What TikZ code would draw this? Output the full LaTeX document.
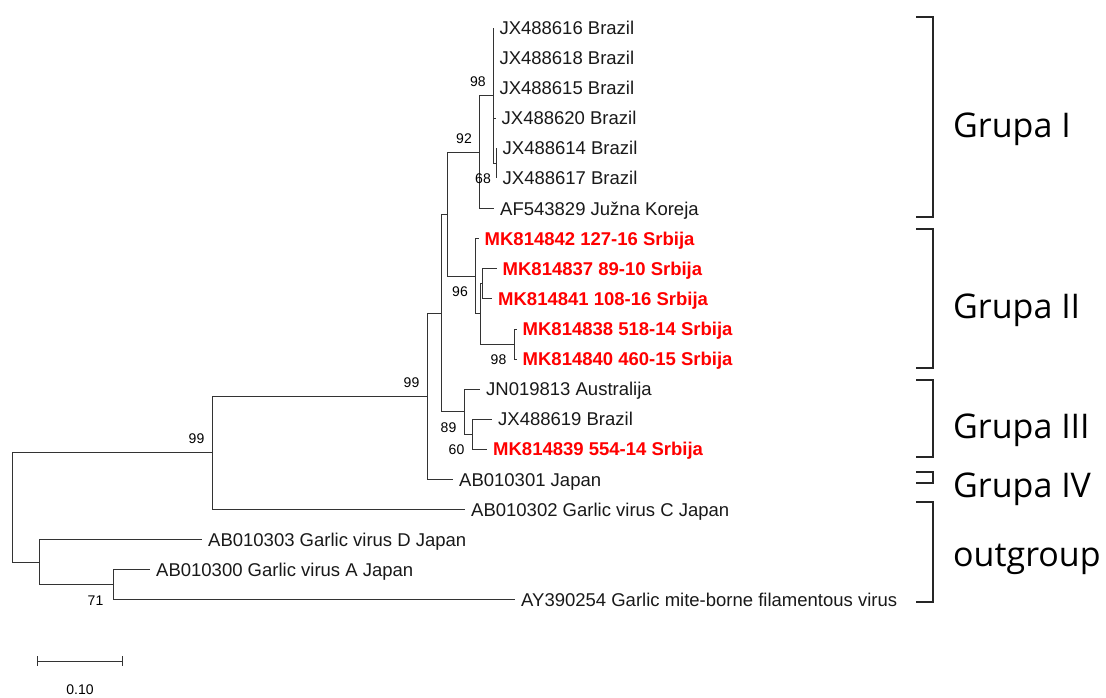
\documentclass[tikz,border=0pt]{standalone}
\usepackage{fontspec}
\setmainfont{Liberation Sans}
\newfontfamily\grpfont{Open Sans}
\begin{document}
\begin{tikzpicture}[x=1pt,y=-1pt,
  br/.style={draw=black!80, line width=1pt},
  lab/.style={anchor=base west, inner sep=0pt, font=\fontsize{18.5}{20}\selectfont, text=black!90},
  redlab/.style={lab, text=red, font=\fontsize{18.5}{20}\selectfont\bfseries},
  bootup/.style={anchor=east, inner sep=0pt, font=\fontsize{14}{16}\selectfont, xshift=-7.5pt, yshift=14pt},
  bootdn/.style={anchor=east, inner sep=0pt, font=\fontsize{14}{16}\selectfont, xshift=-7.5pt, yshift=-15.5pt},
  grp/.style={anchor=base west, inner sep=0pt, font=\grpfont\fontsize{34}{40}\selectfont},
  brk/.style={draw=black!85, line width=1.1pt}]
\useasboundingbox (0,0) rectangle (1106,698);

% tips
\coordinate (t1) at (493.3,28.0);
\coordinate (t2) at (493.3,58.1);
\coordinate (t3) at (493.3,88.2);
\coordinate (t4) at (495.5,118.3);
\coordinate (t5) at (496.5,148.4);
\coordinate (t6) at (496.5,178.5);
\coordinate (t7) at (494,208.6);
\coordinate (t8) at (478.5,238.7);
\coordinate (t9) at (496.5,268.8);
\coordinate (t10) at (492,298.9);
\coordinate (t11) at (516.5,329.0);
\coordinate (t12) at (516.5,359.1);
\coordinate (t13) at (480,389.2);
\coordinate (t14) at (492,419.3);
\coordinate (t15) at (487,449.4);
\coordinate (t16) at (453,479.5);
\coordinate (t17) at (465,509.6);
\coordinate (t18) at (202,539.7);
\coordinate (t19) at (150,569.8);
\coordinate (t20) at (515,599.9);

% internal nodes
\coordinate (n68) at (496.5,163.45);
\coordinate (n98) at (493.3,95.7);
\coordinate (g1) at (479.5,152.2);
\coordinate (c) at (482,283.85);
\coordinate (d) at (514,344.05);
\coordinate (b) at (480,313.95);
\coordinate (g2) at (475.5,276.3);
\coordinate (l) at (447.7,214.25);
\coordinate (e) at (472,434.35);
\coordinate (g3) at (464,411.8);
\coordinate (m) at (441.7,313.0);
\coordinate (n99) at (427,396.25);
\coordinate (p) at (212,452.9);
\coordinate (q) at (113,584.85);
\coordinate (o) at (39,562.3);
\coordinate (r) at (12,507.6);

% branches
\draw[br] (n68) |- (t5); \draw[br] (n68) |- (t6);
\draw[br] (n98) |- (t1); \draw[br] (n98) |- (t2); \draw[br] (n98) |- (t3);
\draw[br] (n98) |- (t4); \draw[br] (n98) |- (n68);
\draw[br] (g1) |- (n98); \draw[br] (g1) |- (t7);
\draw[br] (c) |- (t9); \draw[br] (c) |- (t10);
\draw[br] (d) |- (t11); \draw[br] (d) |- (t12);
\draw[br] (b) |- (c); \draw[br] (b) |- (d);
\draw[br] (g2) |- (t8); \draw[br] (g2) |- (b);
\draw[br] (l) |- (g1); \draw[br] (l) |- (g2);
\draw[br] (e) |- (t14); \draw[br] (e) |- (t15);
\draw[br] (g3) |- (t13); \draw[br] (g3) |- (e);
\draw[br] (m) |- (l); \draw[br] (m) |- (g3);
\draw[br] (n99) |- (m); \draw[br] (n99) |- (t16);
\draw[br] (p) |- (n99); \draw[br] (p) |- (t17);
\draw[br] (q) |- (t19); \draw[br] (q) |- (t20);
\draw[br] (o) |- (t18); \draw[br] (o) |- (q);
\draw[br] (r) |- (p); \draw[br] (r) |- (o);

% tip labels
\node[lab] (l1) at ([xshift=6pt,yshift=-6.5pt]t1) {JX488616 Brazil};
\node[lab] (l2) at ([xshift=6pt,yshift=-6.5pt]t2) {JX488618 Brazil};
\node[lab] (l3) at ([xshift=6pt,yshift=-6.5pt]t3) {JX488615 Brazil};
\node[lab] (l4) at ([xshift=6pt,yshift=-6.5pt]t4) {JX488620 Brazil};
\node[lab] (l5) at ([xshift=6pt,yshift=-6.5pt]t5) {JX488614 Brazil};
\node[lab] (l6) at ([xshift=6pt,yshift=-6.5pt]t6) {JX488617 Brazil};
\node[lab] (l7) at ([xshift=6pt,yshift=-6.5pt]t7) {AF543829 Južna Koreja};
\node[redlab] (l8) at ([xshift=6pt,yshift=-6.5pt]t8) {MK814842 127-16 Srbija};
\node[redlab] (l9) at ([xshift=6pt,yshift=-6.5pt]t9) {MK814837 89-10 Srbija};
\node[redlab] (l10) at ([xshift=6pt,yshift=-6.5pt]t10) {MK814841 108-16 Srbija};
\node[redlab] (l11) at ([xshift=6pt,yshift=-6.5pt]t11) {MK814838 518-14 Srbija};
\node[redlab] (l12) at ([xshift=6pt,yshift=-6.5pt]t12) {MK814840 460-15 Srbija};
\node[lab] (l13) at ([xshift=6pt,yshift=-6.5pt]t13) {JN019813 Australija};
\node[lab] (l14) at ([xshift=6pt,yshift=-6.5pt]t14) {JX488619 Brazil};
\node[redlab] (l15) at ([xshift=6pt,yshift=-6.5pt]t15) {MK814839 554-14 Srbija};
\node[lab] (l16) at ([xshift=6pt,yshift=-6.5pt]t16) {AB010301 Japan};
\node[lab] (l17) at ([xshift=6pt,yshift=-6.5pt]t17) {AB010302 Garlic virus C Japan};
\node[lab] (l18) at ([xshift=6pt,yshift=-6.5pt]t18) {AB010303 Garlic virus D Japan};
\node[lab] (l19) at ([xshift=6pt,yshift=-6.5pt]t19) {AB010300 Garlic virus A Japan};
\node[lab] (l20) at ([xshift=6pt,yshift=-6.5pt]t20) {AY390254 Garlic mite-borne filamentous virus};

% bootstrap values
\node[bootup] (b98a) at (n98) {98};
\node[bootup] (b92) at (g1) {92};
\node[bootdn, xshift=2pt] (b68) at (n68) {68};
\node[bootdn] (b96) at (g2) {96};
\node[bootdn] (b98b) at (d) {98};
\node[bootup] (b99a) at (n99) {99};
\node[bootdn] (b89) at (g3) {89};
\node[bootdn] (b60) at (e) {60};
\node[bootup] (b99b) at (p) {99};
\node[bootdn, xshift=-2pt] (b71) at (q) {71};

% group brackets
\draw[brk] (916,17) -- (933,17) -- (933,217) -- (916,217);
\draw[brk] (916,229) -- (933,229) -- (933,368) -- (916,368);
\draw[brk] (916,380) -- (933,380) -- (933,457) -- (916,457);
\draw[brk] (916,472) -- (933,472) -- (933,483) -- (916,483);
\draw[brk] (916,502) -- (933,502) -- (933,602) -- (916,602);
\node[grp] (gI) at (953,138) {Grupa I};
\node[grp] (gII) at (953,318.5) {Grupa II};
\node[grp] (gIII) at (953,438.5) {Grupa III};
\node[grp] (gIV) at (953,497.5) {Grupa IV};
\node[grp] (gout) at (953,566) {outgroup};

% scale bar
\coordinate (s1) at (37,661);
\coordinate (s2) at (122,661);
\draw[br] (s1) -- (s2);
\draw[br] ([yshift=5pt]s1) -- ([yshift=-5pt]s1);
\draw[br] ([yshift=5pt]s2) -- ([yshift=-5pt]s2);
\node[inner sep=0pt, font=\fontsize{14}{16}\selectfont] (sl) at (80,690) {0.10};
\end{tikzpicture}
\end{document}
